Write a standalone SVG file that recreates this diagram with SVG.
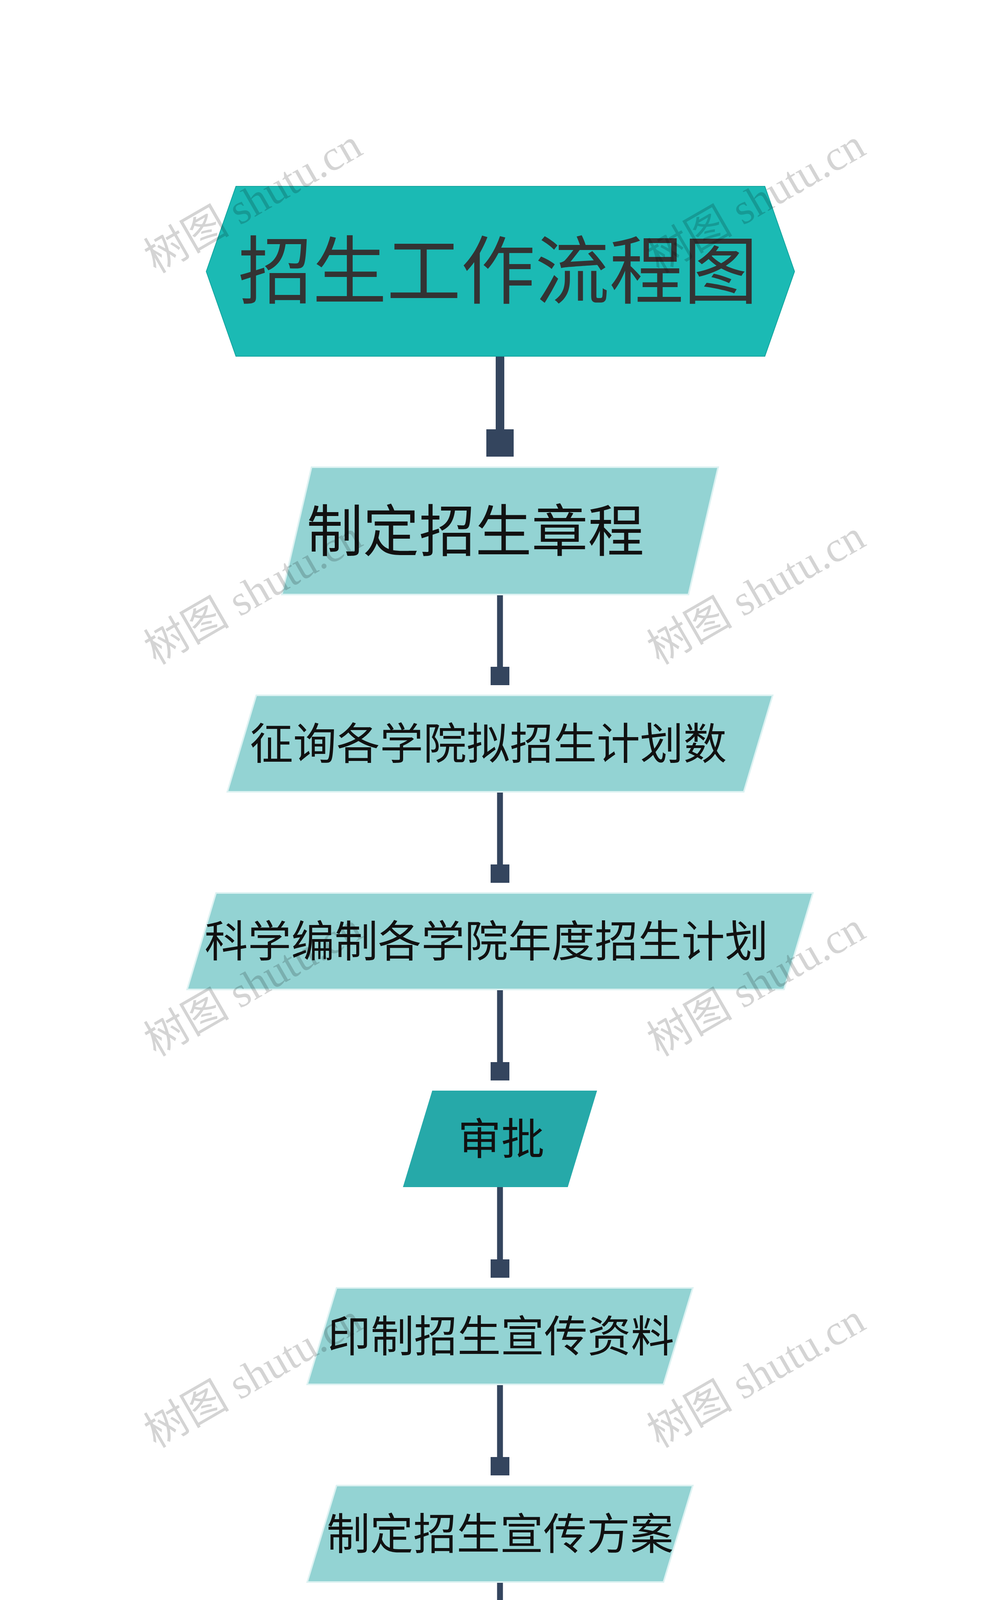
<svg xmlns="http://www.w3.org/2000/svg" width="2560" height="6549" viewBox="0 0 2560 6549">
<style>
.nd{fill:#93D3D3;stroke:#DDF2F2;stroke-width:4}
.t{font-family:"Noto Sans CJK SC","Noto Sans",sans-serif;fill:#111;text-anchor:middle}
.r{font-size:111px}
.ln{stroke:#34455E;stroke-width:15;fill:none}
.sq{fill:#34455E}
.wm{font-family:"Liberation Serif","Noto Sans CJK SC",serif;font-size:110px;fill:#000;fill-opacity:0.17;text-anchor:middle;dominant-baseline:central}
</style>
<rect x="0" y="0" width="2560" height="6549" fill="#FFFFFF"/>
<g id="connectors">
<line x1="1280" y1="912" x2="1280" y2="1100" stroke="#34455E" stroke-width="22"/>
<rect class="sq" x="1245" y="1099" width="70" height="70"/>
<line class="ln" x1="1280" y1="1522" x2="1280" y2="1708"/>
<rect class="sq" x="1256" y="1707" width="48" height="47"/>
<line class="ln" x1="1280" y1="2027" x2="1280" y2="2214"/>
<rect class="sq" x="1256" y="2213" width="48" height="47"/>
<line class="ln" x1="1280" y1="2533" x2="1280" y2="2720"/>
<rect class="sq" x="1256" y="2719" width="48" height="47"/>
<line class="ln" x1="1280" y1="3039" x2="1280" y2="3225"/>
<rect class="sq" x="1256" y="3224" width="48" height="47"/>
<line class="ln" x1="1280" y1="3544" x2="1280" y2="3731"/>
<rect class="sq" x="1256" y="3730" width="48" height="47"/>
<line class="ln" x1="1280" y1="4050" x2="1280" y2="4237"/>
<rect class="sq" x="1256" y="4236" width="48" height="47"/>
<line class="ln" x1="1280" y1="4556" x2="1280" y2="4742"/>
<rect class="sq" x="1256" y="4741" width="48" height="47"/>
<line class="ln" x1="1280" y1="5061" x2="1280" y2="5248"/>
<rect class="sq" x="1256" y="5247" width="48" height="47"/>
<line class="ln" x1="1280" y1="5567" x2="1280" y2="5754"/>
<rect class="sq" x="1256" y="5753" width="48" height="47"/>
</g>
<g id="title">
<polygon points="528,695 604,477 1958,477 2034,695 1958,912 604,912" fill="#1BBAB4" stroke="#14A59F" stroke-width="2"/>
<text x="1275" y="762" font-size="190" class="t" style="fill:#333333">招生工作流程图</text>
</g>
<g id="n1">
<polygon class="nd" points="797.5,1196 1838.5,1196 1762.5,1522 721.5,1522"/>
<text x="1217" y="1412" font-size="144" class="t">制定招生章程</text>
</g>
<g id="n2">
<polygon class="nd" points="656,1780 1978,1780 1904,2027 582,2027"/>
<text x="1250" y="1944" class="t r">征询各学院拟招生计划数</text>
</g>
<g id="n3">
<polygon class="nd" points="553,2286 2081,2286 2007,2533 479,2533"/>
<text x="1245" y="2450" class="t r">科学编制各学院年度招生计划</text>
</g>
<g id="n4">
<polygon points="1106.5,2792 1528.5,2792 1453.5,3039 1031.5,3039" fill="#26A9A9"/>
<text x="1283" y="2956" class="t r">审批</text>
</g>
<g id="n5">
<polygon class="nd" points="861.5,3297 1773.5,3297 1698.5,3544 786.5,3544"/>
<text x="1282" y="3461" class="t r">印制招生宣传资料</text>
</g>
<g id="n6">
<polygon class="nd" points="861.5,3803 1773.5,3803 1698.5,4050 786.5,4050"/>
<text x="1280" y="3967" class="t r">制定招生宣传方案</text>
</g>
<g id="n7">
<polygon class="nd" points="972.5,4309 1662.5,4309 1587.5,4556 897.5,4556"/>
<text x="1281" y="4473" class="t r">组织招生宣传</text>
</g>
<g id="n8">
<polygon class="nd" points="972.5,4814 1662.5,4814 1587.5,5061 897.5,5061"/>
<text x="1281" y="4978" class="t r">新生录取工作</text>
</g>
<g id="n9">
<polygon class="nd" points="861.5,5320 1773.5,5320 1698.5,5567 786.5,5567"/>
<text x="1278" y="5484" class="t r">整理新生录取数据</text>
</g>
<g id="n10">
<polygon class="nd" points="861.5,5826 1773.5,5826 1698.5,6073 786.5,6073"/>
<text x="1278" y="5990" class="t r">年度招生计划总结</text>
</g>
<g id="watermarks">
<text class="wm" transform="translate(648,515) rotate(-30)">树图 shutu.cn</text>
<text class="wm" transform="translate(1936,515) rotate(-30)">树图 shutu.cn</text>
<text class="wm" transform="translate(648,1517) rotate(-30)">树图 shutu.cn</text>
<text class="wm" transform="translate(1936,1517) rotate(-30)">树图 shutu.cn</text>
<text class="wm" transform="translate(648,2520) rotate(-30)">树图 shutu.cn</text>
<text class="wm" transform="translate(1936,2520) rotate(-30)">树图 shutu.cn</text>
<text class="wm" transform="translate(648,3522) rotate(-30)">树图 shutu.cn</text>
<text class="wm" transform="translate(1936,3522) rotate(-30)">树图 shutu.cn</text>
<text class="wm" transform="translate(648,4525) rotate(-30)">树图 shutu.cn</text>
<text class="wm" transform="translate(1936,4525) rotate(-30)">树图 shutu.cn</text>
<text class="wm" transform="translate(648,5527) rotate(-30)">树图 shutu.cn</text>
<text class="wm" transform="translate(1936,5527) rotate(-30)">树图 shutu.cn</text>
<text class="wm" transform="translate(648,6530) rotate(-30)">树图 shutu.cn</text>
<text class="wm" transform="translate(1936,6530) rotate(-30)">树图 shutu.cn</text>
</g>
</svg>
